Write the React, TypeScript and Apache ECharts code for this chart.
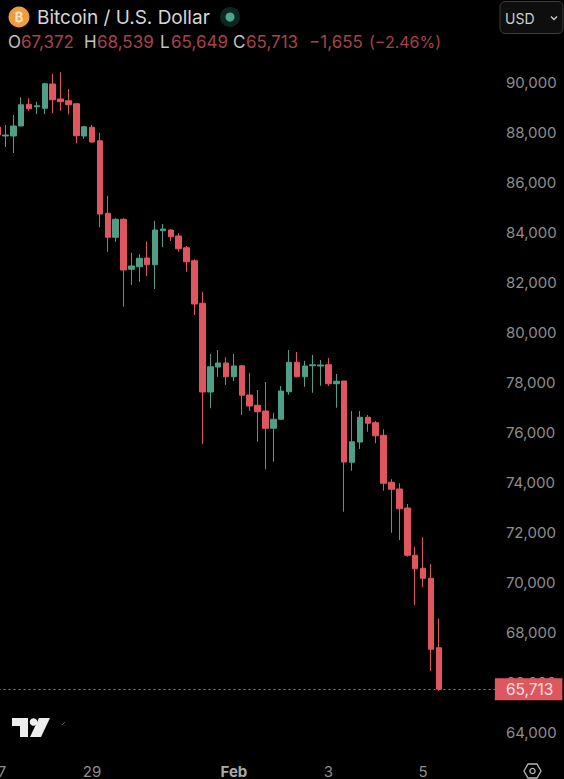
import React, { useEffect, useRef } from "react";
import * as echarts from "echarts";

const RED = "#E0565F";
const GREEN = "#4E9E88";
const FONT = "Inter, Roboto, sans-serif";

const dayLabels: Record<number, string> = { 0: "27", 12: "29", 30: "Feb", 42: "3", 54: "5" };
const lastPrice = 65713;
const yTicksMin = 64000;
const yTicksMax = 92000;
const yTickStep = 2000;

// open, close, low, high
const opens = [88200,87840,87840,88240,89110,89010,88950,89920,89320,89250,89130,87840,88190,87650,84750,83790,84510,82510,82610,82960,82690,84050,84080,83840,83370,82850,81150,77600,78600,78760,78210,78650,77480,77070,76840,76150,76510,77610,78790,78210,78650,78640,78690,77930,78040,74790,75600,76590,76370,75870,73990,73720,72960,71070,70550,70150,67372];
const closes = [87880,87880,88240,89090,88930,89050,89930,89290,89210,89090,87850,88210,87600,84720,83790,84510,82480,82640,82950,82690,84080,84120,83810,83330,82810,81120,77600,78610,78760,78210,78640,77470,77040,76810,76150,76510,77640,78790,78210,78640,78690,78680,77930,78030,74800,75610,76590,76350,75850,73950,73710,72930,71070,70530,70150,67310,65713];
const lows = [87800,87400,87160,88240,88850,88720,88720,88750,88850,88710,87550,87730,87570,84190,83210,83610,81010,81880,82010,82240,81720,83390,83640,83210,82410,80680,75520,76950,78210,77880,78040,76680,76850,75610,74510,74810,76480,77490,78190,77810,77570,77850,77840,76970,72810,74450,75320,76010,75550,73650,71970,71680,71010,69080,69790,66440,65649];
const highs = [88280,88280,88680,89390,89350,89210,89970,90320,90390,89720,89170,88250,88280,87970,85450,84550,84550,83170,83110,83610,84450,84320,84110,83950,83440,82910,81610,79120,79280,78990,79120,78680,78370,77680,78000,76770,77840,79280,79200,78850,79080,78880,78960,78320,78040,76840,76840,76680,76450,76110,74110,73950,73120,71410,71790,70710,68539];

const totalBands = 64;
const categories = Array.from({ length: totalBands }, (_, i) => dayLabels[i] ?? "");
const candles = opens.map((o, i) => [o, closes[i], lows[i], highs[i]]);

const ohlcRow: [string, number, string, number][] = [
  ["O", 8, "#c4c4c4", 17], ["67,372", 21, "#A8434D", 17],
  ["H", 84, "#c4c4c4", 17], ["68,539", 97, "#A8434D", 17],
  ["L", 160, "#c4c4c4", 17], ["65,649", 171, "#A8434D", 17],
  ["C", 233, "#c4c4c4", 17], ["65,713", 246, "#A8434D", 17],
  ["\u22121,655", 309, "#A8434D", 17], ["(\u22122.46%)", 369, "#A8434D", 16],
];

export default function App() {
  const ref = useRef<HTMLDivElement>(null);
  useEffect(() => {
    document.body.style.margin = "0";
    document.body.style.background = "#000";
    const chart = echarts.init(ref.current!, null, { renderer: "svg" });
    const graphic: any[] = [
      { type: "circle", shape: { cx: 19, cy: 17, r: 10.5 }, style: { fill: "#EE9C3E" }, z: 50 },
      { type: "text", x: 19, y: 17, style: { text: "\u20BF", fill: "#F8E3C4", font: `bold 13px ${FONT}`, align: "center", verticalAlign: "middle" }, z: 51 },
      { type: "text", x: 37, y: 17, style: { text: "Bitcoin / U.S. Dollar", fill: "#D6D6D6", font: `19px ${FONT}`, verticalAlign: "middle" }, z: 51 },
      { type: "circle", shape: { cx: 230, cy: 17, r: 10 }, style: { fill: "#0E2620" }, z: 50 },
      { type: "circle", shape: { cx: 230, cy: 17, r: 4.5 }, style: { fill: "#4FA58C" }, z: 51 },
      { type: "rect", shape: { x: 500, y: 1.5, width: 63, height: 32, r: 5 }, style: { fill: "#0E0E0E", stroke: "#3C3C3C", lineWidth: 1 }, z: 50 },
      { type: "text", x: 505, y: 18, style: { text: "USD", fill: "#CFCFCF", font: `14px ${FONT}`, verticalAlign: "middle" }, z: 51 },
      { type: "polyline", shape: { points: [[551, 16.5], [554, 19.5], [557, 16.5]] }, style: { stroke: "#CFCFCF", lineWidth: 1.3, fill: "none" }, z: 51 },
      { type: "polygon", shape: { points: [[12, 718], [28, 718], [28, 737], [20, 737], [20, 726], [12, 726]] }, style: { fill: "#EDEDED" }, z: 51 },
      { type: "circle", shape: { cx: 33.5, cy: 722, r: 3.8 }, style: { fill: "#EDEDED" }, z: 51 },
      { type: "polygon", shape: { points: [[39, 718], [50, 718], [41, 737], [30, 737]] }, style: { fill: "#EDEDED" }, z: 51 },
      { type: "line", shape: { x1: 62, y1: 725, x2: 65, y2: 722 }, style: { stroke: "#555", lineWidth: 1 }, z: 51 },
      { type: "polygon", shape: { points: [[524, 771], [528, 764], [537, 764], [541, 771], [537, 778], [528, 778]] }, style: { fill: "none", stroke: "#B8B8B8", lineWidth: 1.3 }, z: 51 },
      { type: "circle", shape: { cx: 532.5, cy: 771, r: 2.6 }, style: { fill: "none", stroke: "#B8B8B8", lineWidth: 1.3 }, z: 51 },
      ...ohlcRow.map(([text, x, fill, size]) => ({
        type: "text", x, y: 42, style: { text, fill, font: `${size}px ${FONT}`, verticalAlign: "middle" }, z: 51,
      })),
    ];
    chart.setOption({
      animation: false,
      backgroundColor: "#000000",
      grid: { left: -6.44, top: 32, width: 504.32, height: 700, outerBoundsMode: "none", containLabel: false },
      xAxis: {
        type: "category",
        data: categories,
        boundaryGap: true,
        axisLine: { show: false },
        axisTick: { show: false },
        splitLine: { show: false },
        axisLabel: {
          interval: 0,
          margin: 32,
          hideOverlap: false,
          color: "#8E8E8E",
          fontSize: 15,
          fontFamily: FONT,
          formatter: (v: string) => (v === "Feb" ? "{b|Feb}" : v),
          rich: { b: { fontWeight: "bold", color: "#A8A8A8", fontSize: 15, fontFamily: FONT } },
        },
      },
      yAxis: {
        type: "value",
        position: "right",
        min: yTicksMin,
        max: yTicksMax,
        interval: yTickStep,
        axisLine: { show: false },
        axisTick: { show: false },
        splitLine: { show: false },
        axisLabel: {
          margin: 8,
          showMaxLabel: false,
          color: "#8E8E8E",
          fontSize: 15,
          fontFamily: FONT,
          formatter: (v: number) => v.toLocaleString("en-US"),
        },
      },
      series: [
        {
          type: "candlestick",
          data: candles,
          barWidth: 6,
          itemStyle: { color: GREEN, color0: RED, borderColor: GREEN, borderColor0: RED, borderWidth: 1 },
          markLine: {
            silent: true,
            symbol: "none",
            z: 100,
            data: [{ yAxis: lastPrice }],
            lineStyle: { color: "#E0565F", type: [2, 3], width: 1 },
            label: {
              show: true,
              position: "end",
              distance: -3,
              formatter: lastPrice.toLocaleString("en-US"),
              color: "#F6E2E4",
              backgroundColor: RED,
              fontSize: 15.5,
              fontFamily: FONT,
              padding: [3, 9, 3, 11],
            },
          },
        },
      ],
      graphic,
    });
    return () => chart.dispose();
  }, []);
  return <div ref={ref} style={{ width: 564, height: 779, background: "#000" }} />;
}
